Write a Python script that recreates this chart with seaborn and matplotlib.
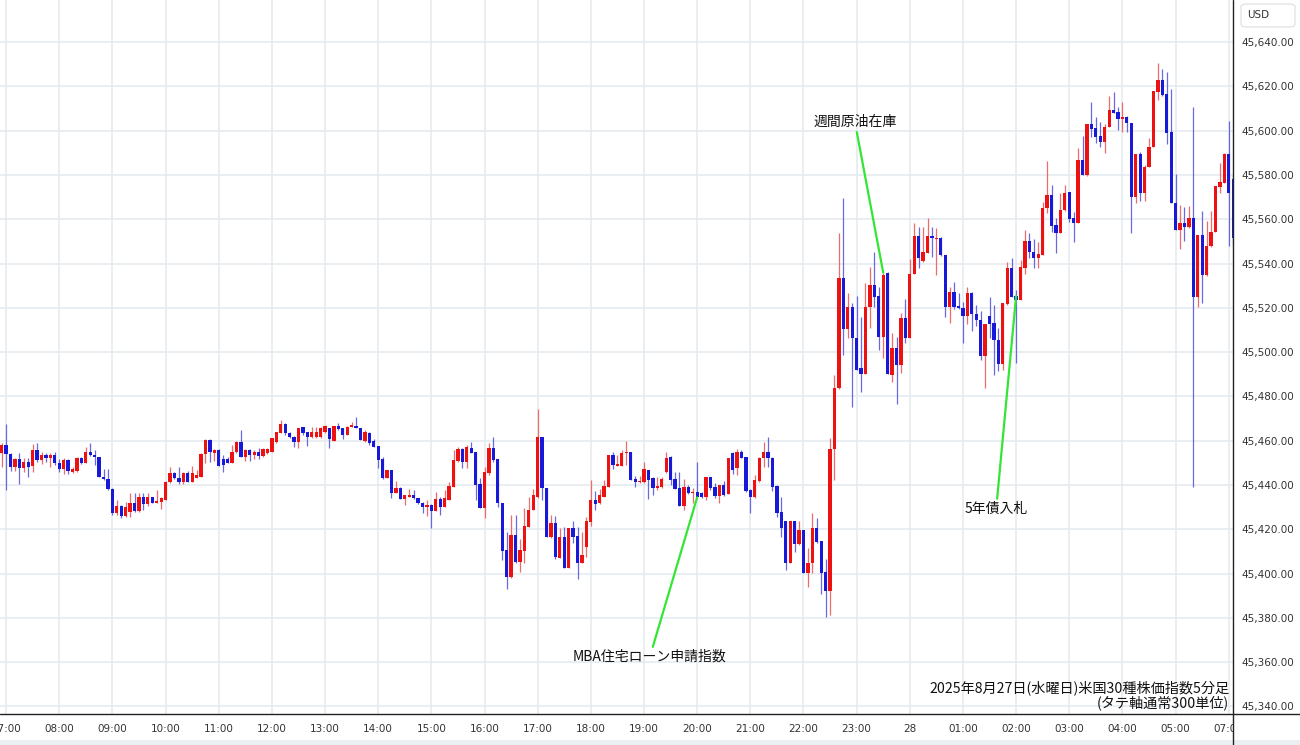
import numpy as np
import pandas as pd
import seaborn as sns
import matplotlib.pyplot as plt
from matplotlib.patches import Rectangle, FancyBboxPatch
from matplotlib.lines import Line2D
from matplotlib.ticker import FuncFormatter

# ==============================================================================
# DATA  (5-minute candles, first bar is the last one before 07:00)
# ==============================================================================

opens = [
    45454.6,
    45458.1, 45454.0, 45448.3, 45451.6, 45447.9, 45450.4, 45448.6, 45455.8, 45451.3, 45453.6, 45452.1, 45453.6,
    45450.1, 45447.2, 45451.3, 45446.0, 45446.5, 45452.1, 45450.1, 45455.1, 45453.6, 45452.5, 45443.8, 45442.7,
    45438.1, 45427.2, 45430.5, 45426.0, 45428.0, 45432.1, 45428.3, 45434.8, 45431.3, 45434.5, 45432.1, 45432.5,
    45433.3, 45441.5, 45445.6, 45443.0, 45441.5, 45445.3, 45441.5, 45443.0, 45443.8, 45454.0, 45460.3, 45454.6,
    45455.8, 45451.6, 45451.6, 45450.1, 45455.1, 45459.6, 45452.8, 45455.8, 45453.6, 45455.1, 45453.1, 45454.3,
    45455.1, 45459.6, 45463.4, 45467.6, 45463.7, 45461.8, 45459.6, 45466.1, 45464.1, 45461.5, 45461.5, 45461.5,
    45464.1, 45465.6, 45460.0, 45466.7, 45465.6, 45462.6, 45466.4, 45466.7, 45465.6, 45460.0, 45463.7, 45460.0,
    45457.6, 45451.6, 45443.0, 45446.8, 45436.6, 45438.5, 45433.7, 45434.8, 45435.5, 45434.0, 45432.1, 45430.2,
    45431.0, 45428.4, 45433.7, 45430.0, 45433.3, 45439.3, 45451.0, 45456.1, 45450.6, 45456.6, 45455.1, 45440.5,
    45429.5, 45445.3, 45456.6, 45451.6, 45431.8, 45410.7, 45398.3, 45417.5, 45405.4, 45410.4, 45421.2, 45428.7,
    45434.8, 45461.5, 45438.5, 45416.4, 45422.7, 45407.0, 45416.4, 45402.4, 45420.5, 45417.0, 45404.7, 45412.2,
    45423.5, 45433.3, 45431.8, 45434.8, 45439.3, 45453.6, 45448.8, 45448.8, 45454.3, 45455.1, 45442.7, 45441.5,
    45441.5, 45447.0, 45443.0, 45438.5, 45439.2, 45446.0, 45452.8, 45442.5, 45438.5, 45430.5, 45439.2, 45436.5,
    45436.9, 45436.5, 45434.7, 45443.4, 45439.2, 45435.0, 45440.0, 45435.9, 45454.6, 45447.5, 45455.0, 45452.7,
    45437.7, 45434.4, 45441.9, 45452.4, 45455.0, 45452.4, 45439.5, 45427.9, 45423.9, 45404.9, 45423.9, 45413.3,
    45419.6, 45400.4, 45404.6, 45420.4, 45414.8, 45400.8, 45392.2, 45456.1, 45483.7, 45533.3, 45510.3, 45520.5,
    45506.2, 45492.7, 45490.1, 45520.2, 45530.3, 45525.3, 45507.0, 45535.9, 45489.7, 45501.7, 45494.2, 45515.3,
    45506.2, 45535.3, 45552.4, 45541.3, 45544.6, 45552.4, 45550.9, 45551.4, 45543.9, 45520.5, 45527.3, 45520.8,
    45519.8, 45516.3, 45526.5, 45517.2, 45514.5, 45498.2, 45516.3, 45513.2, 45505.7, 45494.6, 45521.7, 45538.2,
    45525.3, 45523.5, 45538.2, 45550.3, 45545.3, 45542.7, 45543.8, 45565.3, 45570.9, 45557.3, 45553.9, 45564.1,
    45572.4, 45560.4, 45558.4, 45586.7, 45580.0, 45603.0, 45601.0, 45597.6, 45595.0, 45601.5, 45609.3, 45608.6,
    45605.1, 45606.3, 45603.6, 45569.9, 45589.4, 45572.0, 45583.4, 45592.5, 45617.6, 45622.9, 45616.5, 45599.5,
    45567.5, 45555.1, 45558.4, 45556.3, 45560.4, 45525.0, 45552.9, 45534.8, 45547.9, 45554.4, 45574.7, 45576.5,
    45589.4, 45578.0,
]

highs = [
    45459.0,
    45467.6, 45454.5, 45452.0, 45454.3, 45452.1, 45452.0, 45458.4, 45458.8, 45455.1, 45454.3, 45454.6, 45455.1,
    45451.6, 45452.1, 45451.6, 45448.3, 45452.8, 45452.8, 45457.3, 45459.1, 45455.8, 45452.8, 45447.1, 45447.1,
    45438.5, 45433.3, 45430.8, 45432.5, 45436.3, 45436.3, 45436.6, 45436.6, 45436.6, 45434.8, 45437.8, 45434.8,
    45442.0, 45448.3, 45446.0, 45448.3, 45446.0, 45446.5, 45448.6, 45446.8, 45454.5, 45460.6, 45460.6, 45456.1,
    45456.1, 45453.6, 45452.5, 45458.1, 45459.8, 45464.9, 45456.1, 45456.1, 45455.8, 45456.6, 45456.6, 45456.6,
    45461.1, 45464.1, 45469.4, 45467.9, 45464.0, 45462.1, 45465.6, 45466.4, 45464.1, 45466.1, 45466.1, 45466.1,
    45467.1, 45465.6, 45466.7, 45467.9, 45465.9, 45466.7, 45468.6, 45470.9, 45465.6, 45464.9, 45464.1, 45460.6,
    45457.6, 45452.8, 45446.8, 45446.8, 45441.8, 45439.0, 45435.5, 45438.1, 45437.8, 45434.3, 45432.5, 45433.3,
    45431.5, 45436.7, 45434.5, 45437.8, 45441.5, 45455.8, 45457.3, 45456.6, 45458.1, 45459.6, 45455.1, 45443.0,
    45448.3, 45458.8, 45461.8, 45451.6, 45431.8, 45419.0, 45426.5, 45426.5, 45415.5, 45429.5, 45434.8, 45438.1,
    45474.2, 45461.5, 45438.5, 45426.5, 45426.0, 45420.5, 45421.2, 45420.8, 45423.9, 45421.2, 45419.0, 45425.7,
    45442.3, 45437.5, 45438.1, 45442.3, 45453.6, 45455.1, 45453.6, 45455.8, 45460.0, 45455.1, 45444.1, 45444.1,
    45450.6, 45447.0, 45443.4, 45443.4, 45443.4, 45455.0, 45453.0, 45446.0, 45446.0, 45442.5, 45440.0, 45438.5,
    45450.5, 45436.9, 45443.7, 45443.7, 45441.0, 45440.0, 45441.9, 45452.4, 45455.0, 45456.1, 45455.8, 45452.7,
    45438.0, 45444.5, 45452.7, 45459.5, 45461.5, 45452.7, 45440.0, 45434.4, 45423.9, 45423.9, 45423.9, 45423.9,
    45419.6, 45411.4, 45427.2, 45424.9, 45414.8, 45406.4, 45461.1, 45489.7, 45553.6, 45569.4, 45526.6, 45522.0,
    45525.3, 45516.0, 45531.4, 45538.6, 45545.4, 45529.6, 45535.9, 45536.3, 45508.5, 45507.0, 45517.8, 45523.8,
    45541.9, 45558.5, 45556.3, 45556.3, 45560.4, 45556.3, 45555.9, 45552.1, 45543.9, 45529.6, 45531.8, 45526.6,
    45522.7, 45529.2, 45527.2, 45521.2, 45518.7, 45512.6, 45525.0, 45521.2, 45511.1, 45522.3, 45540.8, 45542.7,
    45528.0, 45541.8, 45555.1, 45553.9, 45550.9, 45549.8, 45567.9, 45586.4, 45575.4, 45560.4, 45571.9, 45575.4,
    45572.4, 45563.4, 45592.0, 45597.6, 45603.0, 45613.1, 45606.3, 45604.0, 45603.0, 45615.6, 45617.6, 45610.5,
    45613.1, 45606.6, 45603.6, 45589.4, 45590.5, 45584.5, 45596.5, 45618.0, 45630.4, 45627.7, 45626.6, 45618.6,
    45580.4, 45566.4, 45565.7, 45566.0, 45610.5, 45552.9, 45563.9, 45559.4, 45563.9, 45575.0, 45585.5, 45590.0,
    45604.5, 45580.0,
]

lows = [
    45448.0,
    45437.8, 45446.3, 45446.3, 45440.5, 45446.0, 45443.5, 45446.0, 45450.6, 45449.5, 45450.6, 45448.3, 45449.0,
    45446.0, 45445.0, 45445.0, 45445.3, 45446.0, 45449.5, 45449.8, 45453.0, 45449.1, 45443.5, 45442.3, 45437.8,
    45426.5, 45426.5, 45425.0, 45425.4, 45425.7, 45428.0, 45427.8, 45428.7, 45430.5, 45431.8, 45431.8, 45429.0,
    45433.3, 45441.0, 45442.5, 45440.5, 45440.5, 45441.2, 45441.5, 45443.0, 45443.5, 45449.8, 45450.6, 45450.9,
    45448.8, 45446.0, 45449.8, 45450.1, 45454.6, 45452.5, 45451.0, 45451.0, 45451.6, 45451.6, 45452.8, 45454.0,
    45454.8, 45459.1, 45463.4, 45462.6, 45461.1, 45457.3, 45456.6, 45462.6, 45457.6, 45461.1, 45461.1, 45461.1,
    45463.7, 45456.6, 45460.0, 45465.0, 45460.6, 45462.6, 45466.0, 45465.6, 45460.3, 45459.6, 45458.1, 45457.0,
    45447.5, 45442.7, 45443.0, 45434.0, 45436.3, 45433.6, 45431.0, 45434.5, 45433.6, 45431.5, 45427.5, 45426.0,
    45420.8, 45428.4, 45426.5, 45430.0, 45433.3, 45439.3, 45450.6, 45447.5, 45447.5, 45454.3, 45433.3, 45429.5,
    45425.0, 45444.5, 45450.6, 45430.0, 45406.2, 45392.9, 45397.9, 45405.0, 45400.9, 45404.7, 45421.2, 45428.7,
    45434.0, 45433.3, 45416.4, 45416.0, 45406.5, 45407.0, 45402.4, 45402.4, 45414.0, 45397.4, 45404.7, 45407.7,
    45421.5, 45428.7, 45431.4, 45434.5, 45439.0, 45447.1, 45448.8, 45448.8, 45449.1, 45442.3, 45439.0, 45441.1,
    45441.1, 45433.5, 45435.4, 45437.7, 45438.5, 45445.2, 45440.0, 45438.2, 45430.5, 45428.7, 45435.9, 45432.0,
    45434.4, 45434.0, 45433.2, 45437.7, 45434.0, 45431.7, 45435.0, 45435.9, 45444.9, 45444.5, 45452.0, 45436.9,
    45427.2, 45434.0, 45441.5, 45448.2, 45448.2, 45437.4, 45425.4, 45416.6, 45401.6, 45404.9, 45409.9, 45412.9,
    45400.1, 45394.1, 45400.4, 45413.6, 45391.0, 45380.5, 45381.5, 45442.3, 45483.2, 45498.7, 45506.2, 45475.1,
    45491.9, 45482.2, 45490.1, 45510.8, 45520.5, 45501.0, 45497.2, 45490.1, 45486.7, 45476.6, 45490.7, 45504.3,
    45506.2, 45535.3, 45537.8, 45540.8, 45544.6, 45543.1, 45534.8, 45543.4, 45515.7, 45513.0, 45519.3, 45519.3,
    45504.2, 45512.9, 45509.6, 45511.7, 45496.4, 45483.6, 45506.2, 45489.6, 45491.6, 45491.9, 45521.2, 45524.7,
    45495.2, 45523.5, 45535.5, 45542.3, 45538.2, 45538.2, 45543.8, 45562.6, 45554.3, 45544.8, 45553.6, 45563.8,
    45558.8, 45549.8, 45558.4, 45580.0, 45579.5, 45597.0, 45594.6, 45592.8, 45590.0, 45601.5, 45607.8, 45600.3,
    45599.5, 45599.5, 45553.6, 45567.5, 45568.4, 45568.4, 45583.4, 45592.5, 45613.8, 45615.6, 45594.0, 45567.2,
    45555.1, 45546.4, 45550.3, 45555.9, 45439.3, 45520.5, 45522.3, 45534.4, 45547.3, 45554.4, 45572.0, 45576.2,
    45547.9, 45548.0,
]

closes = [
    45458.1,
    45454.0, 45448.3, 45451.6, 45447.5, 45450.4, 45448.3, 45455.8, 45451.3, 45453.6, 45452.1, 45453.6, 45450.1,
    45447.2, 45451.3, 45446.5, 45447.2, 45452.1, 45450.0, 45455.1, 45453.6, 45452.5, 45443.8, 45442.7, 45438.1,
    45427.2, 45430.5, 45426.0, 45430.0, 45432.1, 45428.3, 45434.8, 45431.3, 45434.5, 45432.1, 45433.0, 45434.0,
    45441.5, 45445.6, 45443.0, 45441.5, 45445.3, 45441.5, 45445.3, 45444.5, 45454.0, 45460.3, 45454.8, 45455.8,
    45448.8, 45449.1, 45450.1, 45455.1, 45459.6, 45452.8, 45455.8, 45453.6, 45455.1, 45453.1, 45456.1, 45456.1,
    45461.1, 45464.1, 45467.6, 45463.7, 45461.5, 45459.6, 45465.6, 45463.4, 45461.8, 45464.1, 45464.1, 45465.6,
    45466.7, 45460.6, 45466.7, 45465.2, 45462.6, 45466.4, 45467.1, 45465.6, 45460.3, 45464.1, 45458.8, 45457.3,
    45451.3, 45443.0, 45446.8, 45436.6, 45438.5, 45433.7, 45435.5, 45435.5, 45434.0, 45431.8, 45430.2, 45431.0,
    45428.4, 45433.7, 45430.0, 45434.0, 45439.6, 45451.3, 45456.1, 45450.6, 45457.0, 45454.6, 45440.0, 45429.5,
    45446.0, 45456.6, 45451.3, 45431.8, 45410.4, 45398.3, 45417.5, 45405.4, 45410.7, 45421.5, 45428.7, 45435.5,
    45461.5, 45438.5, 45416.4, 45422.7, 45407.4, 45416.4, 45402.4, 45420.5, 45416.7, 45404.7, 45408.4, 45423.9,
    45433.3, 45431.4, 45435.5, 45439.6, 45453.6, 45449.1, 45449.5, 45454.6, 45455.1, 45442.3, 45441.5, 45442.0,
    45447.1, 45442.2, 45438.5, 45439.5, 45442.5, 45452.4, 45442.2, 45438.2, 45430.5, 45439.2, 45436.5, 45436.9,
    45434.4, 45434.7, 45443.4, 45438.5, 45435.0, 45440.0, 45435.4, 45452.4, 45447.0, 45455.0, 45452.4, 45437.4,
    45434.4, 45442.2, 45452.4, 45455.0, 45452.4, 45439.2, 45427.5, 45420.4, 45404.9, 45423.9, 45413.3, 45419.6,
    45400.4, 45404.9, 45420.4, 45414.4, 45400.4, 45392.2, 45456.1, 45483.7, 45533.3, 45510.3, 45520.5, 45506.2,
    45491.9, 45490.1, 45520.5, 45530.3, 45525.0, 45507.0, 45534.8, 45490.1, 45501.7, 45494.2, 45515.3, 45506.2,
    45535.3, 45552.4, 45542.3, 45545.4, 45552.4, 45551.4, 45551.4, 45543.9, 45520.5, 45527.3, 45520.2, 45519.8,
    45516.3, 45526.5, 45517.2, 45514.5, 45498.2, 45512.6, 45512.9, 45505.7, 45494.6, 45522.0, 45538.2, 45525.0,
    45523.5, 45538.5, 45550.3, 45545.3, 45542.7, 45544.2, 45565.3, 45570.9, 45556.9, 45553.9, 45564.4, 45571.9,
    45559.9, 45558.4, 45586.7, 45580.0, 45603.0, 45600.6, 45597.3, 45595.0, 45601.5, 45609.3, 45608.1, 45605.1,
    45606.3, 45603.3, 45569.9, 45589.4, 45572.0, 45583.7, 45592.5, 45618.0, 45622.9, 45616.1, 45599.1, 45567.5,
    45555.1, 45558.1, 45556.3, 45560.4, 45525.0, 45552.9, 45534.8, 45547.9, 45554.4, 45575.0, 45577.0, 45589.4,
    45571.7, 45551.4,
]

hour_labels = ["07:00", "08:00", "09:00", "10:00", "11:00", "12:00", "13:00", "14:00",
               "15:00", "16:00", "17:00", "18:00", "19:00", "20:00", "21:00", "22:00",
               "23:00", "28", "01:00", "02:00", "03:00", "04:00", "05:00", "07:00"]

price_ticks = list(range(45340, 45641, 20))

# (label, candle position, which price, text position)
events = [
    ("週間原油在庫", 198, "high", (191.6, 45604.0)),
    ("MBA住宅ローン申請指数", 156, "close", (145.3, 45362.3)),
    ("5年債入札", 228, "open", (223.5, 45429.2)),
]

title_lines = ["2025年8月27日(水曜日)米国30種株価指数5分足", "(タテ軸通常300単位)"]

# ==============================================================================
# STYLE
# ==============================================================================

sns.set_theme(style="white")
plt.rcParams["font.family"] = ["DejaVu Sans"]
JP = ["Noto Sans CJK JP", "DejaVu Sans"]

UP = "#ee1111"
DOWN = "#1818d8"
UP_WICK = "#ee6b6b"
DOWN_WICK = "#6868e2"
GRID = "#e3eaf0"
GREEN = "#33e633"
TXT = "#333333"

W, H = 1300, 745
PLOT_R, PLOT_B = 1233, 714

# ==============================================================================
# PLOT
# ==============================================================================

df = pd.DataFrame({"open": opens, "high": highs, "low": lows, "close": closes})
df["pos"] = np.arange(len(df)) - 1
df["up"] = df["close"] >= df["open"]
df = df.set_index("pos", drop=False)

fig = plt.figure(figsize=(W / 100, H / 100), dpi=100)
ax = fig.add_axes([0, (H - PLOT_B) / H, PLOT_R / W, PLOT_B / H])

# grid
ax.set_xticks(np.arange(len(hour_labels)) * 12)
ax.set_xticklabels(hour_labels)
ax.set_yticks(price_ticks)
ax.yaxis.set_major_formatter(FuncFormatter(lambda v, p: f"{v:,.2f}"))
ax.grid(True, color=GRID, lw=1.1)
ax.set_axisbelow(True)

# wicks + bodies
ax.vlines(df["pos"], df["low"], df["high"],
          colors=np.where(df["up"], UP_WICK, DOWN_WICK), lw=0.9, zorder=2)
body_lo = np.minimum(df["open"], df["close"])
body_h = np.maximum((df["close"] - df["open"]).abs(), 0.4)
ax.bar(df["pos"], body_h, bottom=body_lo, width=0.74,
       color=np.where(df["up"], UP, DOWN), linewidth=0, zorder=3)

ax.set_xlim(-1.377, 276.96)
ax.set_ylim(45336.6, 45659.0)

ax.yaxis.tick_right()
ax.tick_params(axis="y", length=0, pad=6, labelsize=7.5, labelcolor=TXT)
ax.tick_params(axis="x", length=0, pad=7, labelsize=7.5, labelcolor=TXT)
for s in ax.spines.values():
    s.set_visible(False)

# event notes
for label, pos, field, txt_pos in events:
    ax.annotate(label, xy=(pos, df.loc[pos, field]), xytext=txt_pos,
                ha="center", va="center", fontsize=10, family=JP, color="#111111",
                arrowprops=dict(arrowstyle="-", color=GREEN, lw=1.6,
                                shrinkA=0, shrinkB=0))

# caption bottom right
ax.text(0.9975, 0.0366, title_lines[0], transform=ax.transAxes, ha="right", va="center",
        fontsize=10.2, family=JP, color="#111111")
ax.text(0.9965, 0.0152, title_lines[1], transform=ax.transAxes, ha="right", va="center",
        fontsize=10.2, family=JP, color="#111111")

# right price panel cover for the cut time label, frame lines
fig.add_artist(Rectangle((PLOT_R / W + 0.0008, 0), 1, (H - PLOT_B - 1) / H,
                         transform=fig.transFigure, facecolor="white", edgecolor="none", zorder=5))
fig.add_artist(Rectangle((0, 0), 1, 5 / H, transform=fig.transFigure,
                         facecolor="#eceff2", edgecolor="none", zorder=5))
fig.add_artist(Line2D([PLOT_R / W, PLOT_R / W], [0, 1], transform=fig.transFigure,
                      color="#222222", lw=1.0, zorder=6))
fig.add_artist(Line2D([0, 1], [(H - PLOT_B) / H] * 2, transform=fig.transFigure,
                      color="#222222", lw=1.0, zorder=6))

# currency box
fig.add_artist(FancyBboxPatch((1241 / W, (H - 27) / H), 54 / W, 23 / H,
                              boxstyle="round,pad=0,rounding_size=0.004",
                              transform=fig.transFigure, facecolor="white",
                              edgecolor="#dddddd", lw=0.8, zorder=6))
fig.text(1247 / W, (H - 15) / H, "USD", ha="left", va="center", fontsize=7.5,
         color=TXT, zorder=7)

fig.savefig("out.png", dpi=100)
